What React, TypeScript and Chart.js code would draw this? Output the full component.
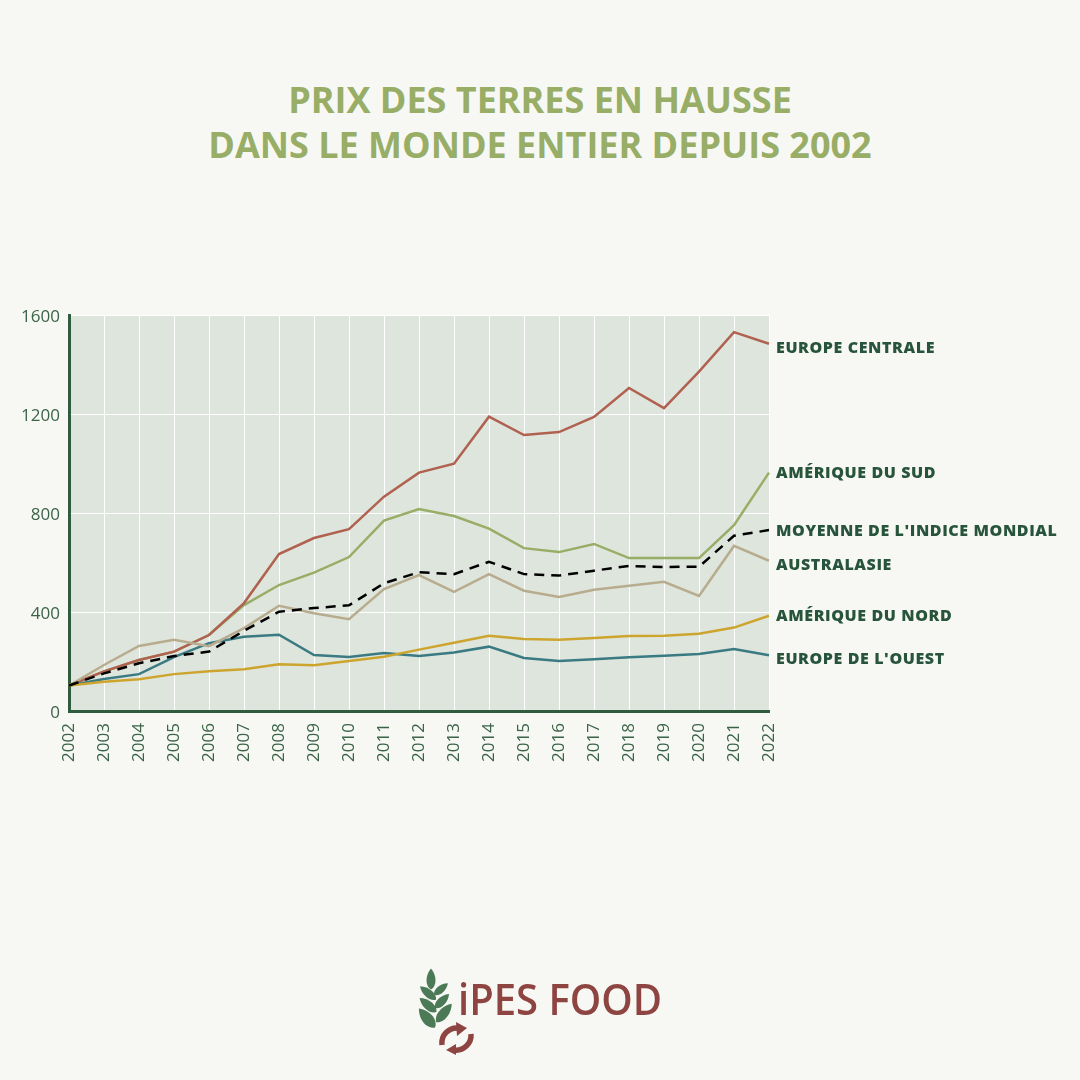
import { useEffect, useRef } from "react";
import { Chart, registerables } from "chart.js";
import type { Plugin } from "chart.js";

Chart.register(...registerables);

const years = ["2002", "2003", "2004", "2005", "2006", "2007", "2008", "2009", "2010", "2011", "2012", "2013", "2014", "2015", "2016", "2017", "2018", "2019", "2020", "2021", "2022"];

const moyenne = [103, 152, 193, 222, 240, 324, 401, 416, 427, 516, 561, 553, 603, 553, 547, 567, 586, 582, 583, 708, 731];
const australasie = [103, 186, 263, 288, 262, 335, 425, 395, 371, 493, 549, 481, 553, 486, 461, 490, 506, 522, 465, 667, 607];
const ameriqueNord = [103, 118, 128, 149, 161, 169, 189, 185, 202, 219, 248, 276, 304, 291, 288, 295, 303, 304, 312, 337, 385];
const europeOuest = [103, 129, 149, 218, 274, 300, 308, 226, 218, 234, 222, 236, 260, 214, 202, 209, 217, 223, 230, 250, 225];
const europeCentrale = [103, 160, 206, 240, 307, 436, 634, 699, 735, 866, 963, 999, 1189, 1115, 1127, 1188, 1305, 1224, 1371, 1531, 1484];
const ameriqueSud = [103, 160, 206, 240, 307, 428, 509, 559, 622, 769, 816, 788, 737, 658, 642, 675, 618, 618, 618, 751, 963];

const TEXT_DARK = "#27543a";
const TICK_COLOR = "#3a6347";
const AXIS_COLOR = "#2f5c3e";
const LOGO_RED = "#8e4441";
const LEAF_GREEN = "#4c7a56";

// the end labels sit a few px off their line so they don't collide
const endLabels = [
  { text: "EUROPE CENTRALE", values: europeCentrale, dy: 5 },
  { text: "AMÉRIQUE DU SUD", values: ameriqueSud, dy: 1 },
  { text: "MOYENNE DE L'INDICE MONDIAL", values: moyenne, dy: 1 },
  { text: "AUSTRALASIE", values: australasie, dy: 5 },
  { text: "AMÉRIQUE DU NORD", values: ameriqueNord, dy: 1 },
  { text: "EUROPE DE L'OUEST", values: europeOuest, dy: 4 },
];

const plotBackground: Plugin<"line"> = {
  id: "plotBackground",
  beforeDraw: (chart) => {
    const { ctx, chartArea } = chart;
    ctx.save();
    ctx.fillStyle = "#dee5dd";
    ctx.fillRect(chartArea.left, chartArea.top, chartArea.width, chartArea.height);
    ctx.restore();
  },
};

// y tick labels sit slightly below their gridline, which the scale can't do by itself
const yTickLabels: Plugin<"line"> = {
  id: "yTickLabels",
  afterDraw: (chart) => {
    const { ctx, chartArea, scales } = chart;
    ctx.save();
    ctx.font = '17px "Open Sans"';
    ctx.fillStyle = TICK_COLOR;
    ctx.textBaseline = "middle";
    ctx.textAlign = "right";
    scales.y.ticks.forEach((t) => {
      ctx.fillText(String(t.value), chartArea.left - 9, scales.y.getPixelForValue(t.value) + 2.5);
    });
    ctx.restore();
  },
};

const lineLabels: Plugin<"line"> = {
  id: "lineLabels",
  afterDraw: (chart) => {
    const { ctx, chartArea, scales } = chart;
    ctx.save();
    ctx.font = '800 16px "Open Sans"';
    (ctx as any).letterSpacing = "0.6px";
    ctx.fillStyle = TEXT_DARK;
    ctx.textBaseline = "middle";
    ctx.textAlign = "left";
    endLabels.forEach((l) => {
      const y = scales.y.getPixelForValue(l.values[l.values.length - 1]) + l.dy;
      ctx.fillText(l.text, chartArea.right + 7, y);
    });
    ctx.restore();
  },
};

const lineStyle = { borderWidth: 2.5, pointRadius: 0, tension: 0, fill: false };

const Leaf = ({ x, y, angle, len, wid }: { x: number; y: number; angle: number; len: number; wid: number }) => (
  <path
    transform={`translate(${x} ${y}) rotate(${angle})`}
    d={`M0 ${-len / 2} C${wid / 2} ${-len / 6} ${wid / 2} ${len / 3} 0 ${len / 2} C${-wid / 2} ${len / 3} ${-wid / 2} ${-len / 6} 0 ${-len / 2} Z`}
    fill={LEAF_GREEN}
  />
);

const Logo = () => (
  <svg width={1080} height={1080} style={{ position: "absolute", left: 0, top: 0 }}>
    <Leaf x={431} y={979} angle={0} len={21} wid={12} />
    <Leaf x={428} y={993} angle={-50} len={21} wid={11} />
    <Leaf x={428} y={1005} angle={-50} len={22} wid={12} />
    <Leaf x={427} y={1018} angle={-40} len={25} wid={15} />
    <Leaf x={441} y={989} angle={50} len={18} wid={10} />
    <Leaf x={442} y={1001} angle={45} len={20} wid={11} />
    <Leaf x={444} y={1013} angle={40} len={24} wid={13} />
    <path d="M442 1045 A15 15 0 0 1 458 1028" fill="none" stroke={LOGO_RED} strokeWidth={5.5} />
    <path d="M456 1022 L467 1028 L457 1036 Z" fill={LOGO_RED} />
    <path d="M471 1034 A15 15 0 0 1 454 1050" fill="none" stroke={LOGO_RED} strokeWidth={5.5} />
    <path d="M456 1044 L446 1050 L456 1055 Z" fill={LOGO_RED} />
    <text x={458} y={1015} fontFamily="Open Sans" fontWeight={600} fontSize={44} fill={LOGO_RED} textLength={204} lengthAdjust="spacingAndGlyphs">
      iPES FOOD
    </text>
  </svg>
);

const App = () => {
  const canvasRef = useRef<HTMLCanvasElement>(null);

  useEffect(() => {
    if (!canvasRef.current) return;
    const chart = new Chart(canvasRef.current, {
      type: "line",
      data: {
        labels: years,
        // first dataset ends up on top
        datasets: [
          { label: "Moyenne de l'indice mondial", data: moyenne, borderColor: "#000000", borderDash: [10, 7], ...lineStyle },
          { label: "Australasie", data: australasie, borderColor: "#b8ac8e", ...lineStyle },
          { label: "Amérique du Nord", data: ameriqueNord, borderColor: "#cda52e", ...lineStyle },
          { label: "Europe de l'Ouest", data: europeOuest, borderColor: "#3a7a82", ...lineStyle },
          { label: "Europe centrale", data: europeCentrale, borderColor: "#b0614f", ...lineStyle },
          { label: "Amérique du Sud", data: ameriqueSud, borderColor: "#98ad66", ...lineStyle },
        ],
      },
      options: {
        responsive: false,
        animation: false,
        layout: { padding: { left: 0, top: 315, right: 311, bottom: 309 } },
        plugins: { legend: { display: false }, tooltip: { enabled: false }, title: { display: false } },
        scales: {
          x: {
            offset: false,
            afterFit: (scale) => {
              scale.height = 60;
            },
            grid: { color: "#ffffff", lineWidth: 1, drawTicks: false },
            border: { color: AXIS_COLOR, width: 3 },
            ticks: {
              color: TICK_COLOR,
              font: { family: "Open Sans", size: 17 },
              minRotation: 90,
              maxRotation: 90,
              autoSkip: false,
              padding: 12,
            },
          },
          y: {
            min: 0,
            max: 1600,
            afterFit: (scale) => {
              scale.width = 69;
            },
            grid: { color: "#ffffff", lineWidth: 1, drawTicks: false },
            border: { color: AXIS_COLOR, width: 3 },
            ticks: { stepSize: 400, display: false },
          },
        },
      },
      plugins: [plotBackground, yTickLabels, lineLabels],
    });
    return () => chart.destroy();
  }, []);

  return (
    <div style={{ position: "absolute", left: 0, top: 0, width: 1080, height: 1080, background: "#f7f8f3", overflow: "hidden" }}>
      <div
        style={{
          position: "absolute",
          left: 0,
          top: 77,
          width: 1080,
          textAlign: "center",
          fontFamily: "Open Sans",
          fontWeight: 700,
          fontSize: 36,
          lineHeight: "45px",
          color: "#98ad66",
        }}
      >
        PRIX DES TERRES EN HAUSSE
        <br />
        DANS LE MONDE ENTIER DEPUIS 2002
      </div>
      <canvas ref={canvasRef} width={1080} height={1080} style={{ position: "absolute", left: 0, top: 0 }} />
      <Logo />
    </div>
  );
};

export default App;
